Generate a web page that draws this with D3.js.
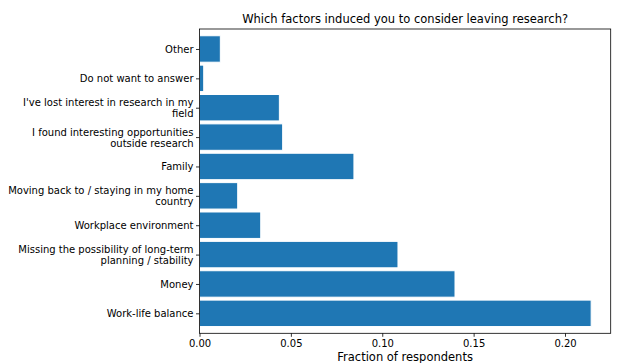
<!DOCTYPE html>
<html>
<head>
<meta charset="utf-8">
<script src="https://cdn.jsdelivr.net/npm/d3@7"></script>
<style>
  body { margin: 0; background: #fff; }
  text { font-family: "DejaVu Sans", sans-serif; fill: #000; }
</style>
</head>
<body>
<div id="chart"></div>
<script>
// Categories, bottom to top (as drawn)
const categories = [
  "Work-life balance",
  "Money",
  "Missing the possibility of long-term planning / stability",
  "Workplace environment",
  "Moving back to / staying in my home country",
  "Family",
  "I found interesting opportunities outside research",
  "I've lost interest in research in my field",
  "Do not want to answer",
  "Other"
];
// wrapped labels as shown on the axis
const labelLines = [
  ["Work-life balance"],
  ["Money"],
  ["Missing the possibility of long-term", "planning / stability"],
  ["Workplace environment"],
  ["Moving back to / staying in my home", "country"],
  ["Family"],
  ["I found interesting opportunities", "outside research"],
  ["I've lost interest in research in my", "field"],
  ["Do not want to answer"],
  ["Other"]
];
const fractions = [0.2143, 0.1398, 0.1086, 0.0335, 0.0209, 0.0845, 0.0455, 0.0437, 0.0023, 0.0114];
const xTicks = [0, 0.05, 0.10, 0.15, 0.20];

const svgWidth = 623;
const svgHeight = 363;
const margin = { top: 29, right: 12.3, bottom: 29.7, left: 199.5 };
const chartWidth = svgWidth - margin.left - margin.right;
const chartHeight = svgHeight - margin.top - margin.bottom;
const barHeight = 0.9;

const svg = d3.select('#chart')
    .append('svg')
    .attr('width', svgWidth)
    .attr('height', svgHeight);

const chart = svg.append('g')
    .attr('transform', `translate(${margin.left},${margin.top})`);

// scales
const xScale = d3.scaleLinear()
    .domain([0, 0.225])
    .range([0, chartWidth]);

const yScale = d3.scaleLinear()
    .domain([-0.68, categories.length - 1 + 0.68])
    .range([chartHeight, 0]);

// bars
chart.selectAll('rect.bar')
    .data(fractions)
    .enter()
    .append('rect')
    .attr('class', 'bar')
    .attr('x', xScale(0))
    .attr('y', (d, i) => yScale(i + barHeight / 2))
    .attr('width', d => xScale(d) - xScale(0))
    .attr('height', (d, i) => yScale(i - barHeight / 2) - yScale(i + barHeight / 2))
    .attr('fill', '#1f77b4')
    .attr('stroke', '#fff')
    .attr('stroke-width', 1);

// x axis
const xAxis = d3.axisBottom(xScale)
    .tickValues(xTicks)
    .tickFormat(d3.format('.2f'))
    .tickSize(3.5)
    .tickPadding(3.5);

const gx = chart.append('g')
    .attr('transform', `translate(0, ${chartHeight})`)
    .call(xAxis);
gx.select('.domain').remove();
gx.selectAll('line').attr('stroke', '#000').attr('stroke-width', 0.8);
gx.selectAll('text').attr('font-size', 10).attr('font-family', '"DejaVu Sans", sans-serif');

// y axis
const yAxis = d3.axisLeft(yScale)
    .tickValues(d3.range(categories.length))
    .tickFormat('')
    .tickSize(3.5);

const gy = chart.append('g').call(yAxis);
gy.select('.domain').remove();
gy.selectAll('line').attr('stroke', '#000').attr('stroke-width', 0.8);

// multi-line y tick labels
const lineH = 11;
gy.selectAll('.tick').each(function(d) {
  const lines = labelLines[d];
  const t = d3.select(this).append('text')
      .attr('x', -6)
      .attr('text-anchor', 'end')
      .attr('font-size', 10)
      .attr('fill', '#000');
  lines.forEach((ln, k) => {
    t.append('tspan')
      .attr('x', -6)
      .attr('y', (k - (lines.length - 1) / 2) * lineH)
      .attr('dy', '0.35em')
      .text(ln);
  });
});

// frame
chart.append('rect')
    .attr('x', 0)
    .attr('y', 0)
    .attr('width', chartWidth)
    .attr('height', chartHeight)
    .attr('fill', 'none')
    .attr('stroke', '#000')
    .attr('stroke-width', 0.8);

// title
svg.append('text')
    .attr('x', margin.left + chartWidth / 2)
    .attr('y', margin.top - 6)
    .attr('text-anchor', 'middle')
    .attr('font-size', 11.5)
    .text('Which factors induced you to consider leaving research?');

// x label
svg.append('text')
    .attr('x', margin.left + chartWidth / 2)
    .attr('y', svgHeight - 2)
    .attr('text-anchor', 'middle')
    .attr('font-size', 11.5)
    .text('Fraction of respondents');
</script>
</body>
</html>
